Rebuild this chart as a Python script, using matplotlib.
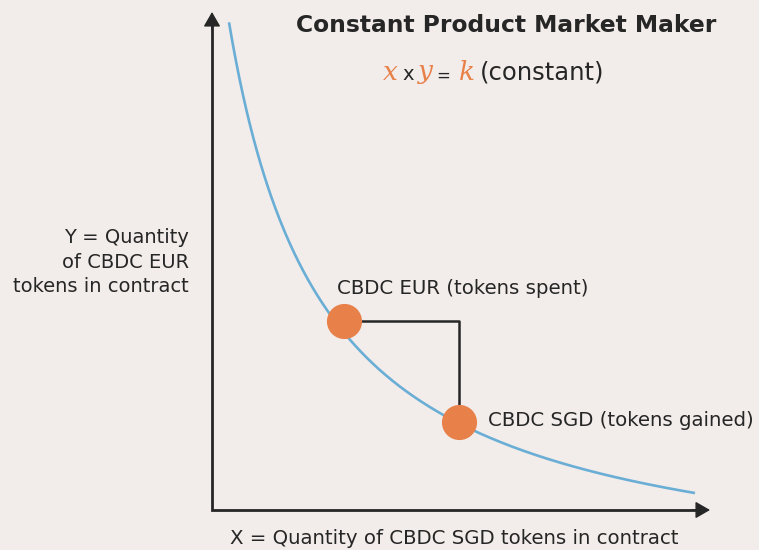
import matplotlib.pyplot as plt
import numpy as np

# constant product curve, constants: (x + X_OFF) * (y + Y_OFF) = K
K = 53833
X_OFF = 78
Y_OFF = 79
x_start, x_end = 17, 483

# the two tokens on the curve
point_x = [132, 247]
point_y = [189, 88]
point_labels = ["CBDC EUR (tokens spent)", "CBDC SGD (tokens gained)"]

title = "Constant Product Market Maker"
x_label = "X = Quantity of CBDC SGD tokens in contract"
y_label = "Y = Quantity\nof CBDC EUR\ntokens in contract"

BG = "#f2edea"
DARK = "#262626"
BLUE = "#6aaed6"
ORANGE = "#e8804a"
FONT = "DejaVu Sans"
SERIF = "DejaVu Serif"

fig = plt.figure(figsize=(7.59, 5.5), dpi=100, facecolor=BG)
ax = fig.add_axes([0, 0, 1, 1])
ax.set_facecolor(BG)
ax.set_xlim(-212, 547)
ax.set_ylim(-40, 510)
ax.axis("off")

xs = np.linspace(x_start, x_end, 400)
ax.plot(xs, K / (xs + X_OFF) - Y_OFF, color=BLUE, lw=1.9,
        solid_capstyle="butt", zorder=2)

# axes: L shape plus arrow heads
ax.plot([0, 0, 490], [490, 0, 0], color=DARK, lw=2.0,
        solid_joinstyle="miter", solid_capstyle="butt", zorder=3)
head = dict(arrowstyle="-|>,head_length=0.45,head_width=0.26", lw=1,
            color=DARK, mutation_scale=20, shrinkA=0, shrinkB=0)
ax.annotate("", xy=(498, 0), xytext=(480, 0), arrowprops=head)
ax.annotate("", xy=(0, 498), xytext=(0, 480), arrowprops=head)

# connector between the two points
ax.plot([point_x[0], point_x[1], point_x[1]], [point_y[0], point_y[0], point_y[1]],
        color=DARK, lw=1.8, zorder=3)
ax.scatter(point_x, point_y, s=640, color=ORANGE, zorder=4, linewidths=0)

ax.text(125, 222, point_labels[0], fontsize=14.2, family=FONT,
        color=DARK, ha="left", va="center")
ax.text(276, 89, point_labels[1], fontsize=14.2, family=FONT,
        color=DARK, ha="left", va="center")

ax.text(294, 485, title, fontsize=16.8, fontweight="bold", family=FONT,
        color=DARK, ha="center", va="center")

# x x y = k (constant)
t = ax.text(171, 438, "x", fontsize=19, family=SERIF, style="italic",
            color=ORANGE, ha="left", va="center")
pieces = [("x", DARK, "normal", FONT, 14, 3.0), ("y", ORANGE, "italic", SERIF, 19, 3.5),
          ("=", DARK, "normal", FONT, 12, 2.5), ("k", ORANGE, "italic", SERIF, 19, 6.0),
          ("(constant)", DARK, "normal", FONT, 17.5, 3.5)]
for s, c, st, fam, fs, gap in pieces:
    t = ax.annotate(s, xy=(1, 0), xycoords=t, xytext=(gap, 0), textcoords="offset points",
                    fontsize=fs, family=fam, style=st, color=c, ha="left", va="bottom")

ax.text(-23, 248, y_label, fontsize=14, family=FONT,
        color=DARK, ha="right", va="center", linespacing=1.38)
ax.text(242, -29, x_label, fontsize=14.2, family=FONT, color=DARK,
        ha="center", va="center")

fig.savefig("out.png", dpi=100, facecolor=BG)
